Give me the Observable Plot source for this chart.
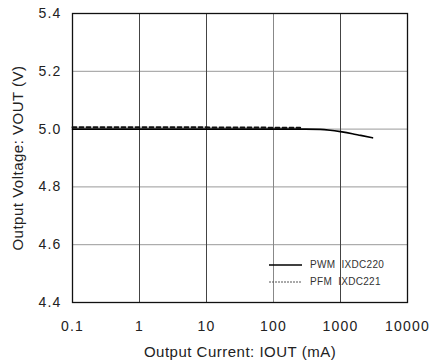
<!DOCTYPE html>
<html>
<head>
<meta charset="utf-8">
<script src="https://cdn.jsdelivr.net/npm/d3@7"></script>
<script src="https://cdn.jsdelivr.net/npm/@observablehq/plot@0.6"></script>
<style>
  body { margin: 0; background: #fff; }
  #wrap { position: relative; width: 432px; height: 364px; font-family: "Liberation Sans", Arial, sans-serif; }
  #wrap g[aria-label="x-axis tick label"], #wrap g[aria-label="y-axis tick label"] { font-size: 14px; letter-spacing: 1.2px; }
  #wrap g[aria-label="x-axis label"], #wrap g[aria-label="y-axis label"] { font-size: 15px; letter-spacing: 0.5px; }
  #legend { position: absolute; left: 269px; top: 256px; font-size: 10px; letter-spacing: 0.3px; color: #333; line-height: 17px; }
  #legend .row { display: flex; align-items: center; white-space: pre; }
  #legend svg { margin-right: 8px; }
</style>
</head>
<body>
<div id="wrap"></div>
<script>
// Data
const xTicks = [0.1, 1, 10, 100, 1000, 10000];
const yTicks = [4.4, 4.6, 4.8, 5.0, 5.2, 5.4];
const pwmCurrent = [0.1, 1, 10, 100, 300, 500, 700, 1000, 1500, 2000, 3000];
const pwmVoltage = [5.0, 5.0, 5.0, 5.0, 5.0, 4.999, 4.996, 4.991, 4.984, 4.978, 4.97];
const pfmCurrent = [0.1, 1, 10, 100, 250];
const pfmVoltage = [5.006, 5.006, 5.006, 5.005, 5.005];
const seriesNames = ["PWM  IXDC220", "PFM  IXDC221"];

const pwm = pwmCurrent.map((x, i) => ({x, y: pwmVoltage[i]}));
const pfm = pfmCurrent.map((x, i) => ({x, y: pfmVoltage[i]}));
const darkGrid = [1, 10, 1000];
const lightGrid = [100];

const chart = Plot.plot({
  width: 432,
  height: 364,
  marginLeft: 72,
  marginRight: 25,
  marginTop: 13,
  marginBottom: 62,
  style: { fontFamily: "Liberation Sans, Arial, sans-serif", fontSize: "14px", color: "#222", background: "#fff" },
  x: { type: "log", domain: [0.1, 10000] },
  y: { domain: [4.4, 5.4] },
  marks: [
    Plot.ruleY(yTicks.slice(1, -1), { stroke: "#999", strokeWidth: 1 }),
    Plot.ruleX(lightGrid, { stroke: "#888", strokeWidth: 1 }),
    Plot.ruleX(darkGrid, { stroke: "#444", strokeWidth: 1 }),
    Plot.frame({ stroke: "#111", strokeWidth: 1.3 }),
    Plot.line(pfm, { x: "x", y: "y", stroke: "#111", strokeWidth: 2, strokeDasharray: "4,3" }),
    Plot.line(pwm, { x: "x", y: "y", stroke: "#000", strokeWidth: 1.7, curve: "monotone-x" }),
    Plot.axisX(xTicks, {
      tickSize: 0, tickPadding: 19, tickFormat: d => String(d),
      label: "Output Current: IOUT (mA)", labelAnchor: "center", labelArrow: "none", labelOffset: 54
    }),
    Plot.axisY(yTicks, {
      tickSize: 0, tickPadding: 11, tickFormat: d3.format(".1f"),
      label: "Output Voltage: VOUT (V)", labelAnchor: "center", labelArrow: "none", labelOffset: 60
    })
  ]
});

const wrap = document.getElementById("wrap");
wrap.appendChild(chart);

const legend = document.createElement("div");
legend.id = "legend";
const dashes = [null, "2,1"];
const widths = [1.6, 1];
const colors = ["#000", "#555"];
seriesNames.forEach((name, i) => {
  const row = document.createElement("div");
  row.className = "row";
  const s = d3.create("svg").attr("width", 33).attr("height", 6);
  s.append("line").attr("x1", 0).attr("x2", 33).attr("y1", 3).attr("y2", 3)
    .attr("stroke", colors[i]).attr("stroke-width", widths[i])
    .attr("stroke-dasharray", dashes[i]);
  row.appendChild(s.node());
  const t = document.createElement("span");
  t.textContent = name;
  row.appendChild(t);
  legend.appendChild(row);
});
wrap.appendChild(legend);
</script>
</body>
</html>
